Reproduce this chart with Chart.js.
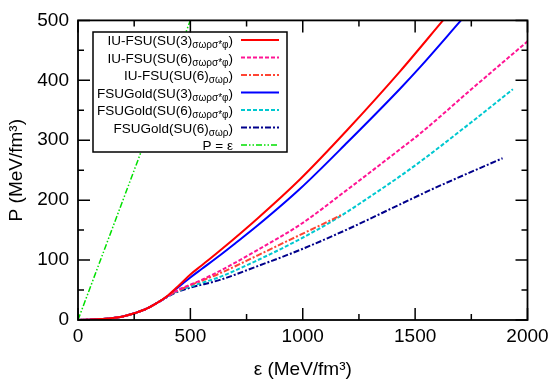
<!DOCTYPE html>
<html lang="en">
<head>
<meta charset="UTF-8">
<title>EOS: P vs energy density</title>
<script src="https://cdn.jsdelivr.net/npm/chart.js"></script>
<style>
  html, body { margin: 0; padding: 0; background: #fff; }
  #wrap { width: 555px; height: 383px; }
</style>
</head>
<body>
<div id="wrap"><canvas id="eos"></canvas></div>
<script>
// values, energy density and pressure in MeV/fm^3
const epsIuSu3 = [0, 100, 200, 300, 350, 400, 450, 500, 550, 632, 800, 988, 1200, 1433, 1624];
const pIuSu3   = [0, 1.5, 6, 18, 28, 41, 58, 76, 91, 116, 170, 235, 318, 415, 500];

const epsIuSu6 = [0, 100, 200, 300, 350, 400, 425, 450, 500, 550, 632, 800, 988, 1200, 1433, 1522, 1750, 2000];
const pIuSu6   = [0, 1.5, 6, 18, 28, 40, 46, 51, 59, 67, 82, 117, 159, 218, 285, 311, 385, 465];

const epsIuSu6r = [0, 100, 200, 300, 350, 400, 425, 450, 500, 632, 800, 988, 1100, 1175];
const pIuSu6r   = [0, 1.5, 6, 18, 28, 40, 45.5, 50, 58, 78, 108, 142, 162, 176];

const epsFsuSu3 = [0, 100, 200, 300, 350, 400, 450, 500, 550, 632, 700, 800, 988, 1200, 1433, 1522, 1704];
const pFsuSu3   = [0, 1.5, 6, 18, 28, 40, 56, 71, 85, 108, 128, 158, 219, 297, 386, 422, 500];

const epsFsuSu6 = [0, 100, 200, 300, 350, 400, 425, 450, 500, 632, 800, 988, 1166, 1300, 1433, 1522, 1750, 1935];
const pFsuSu6   = [0, 1.5, 6, 18, 28, 40, 45, 49, 56, 72, 100, 135, 173, 206, 240, 264, 330, 385];

const epsFsuSu6r = [0, 100, 200, 300, 350, 400, 425, 450, 500, 632, 800, 988, 1197, 1433, 1580, 1889];
const pFsuSu6r   = [0, 1.5, 6, 18, 28, 39, 44, 48, 54, 67, 90, 117, 151, 193, 219, 270];

const epsCausal = [0, 530];
const pCausal   = [0, 530];

const xTicks = [0, 500, 1000, 1500, 2000];
const yTicks = [0, 100, 200, 300, 400, 500];

function pts(xs, ys) {
    return xs.map((x, i) => ({ x: x, y: ys[i] }));
}

const FONT = '"Liberation Sans", Arial, sans-serif';

function line(parts, xs, ys, color, dash, width) {
    return {
        parts: parts,
        data: pts(xs, ys),
        borderColor: color,
        backgroundColor: color,
        borderWidth: width,
        borderDash: dash,
        pointRadius: 0,
        fill: false,
        cubicInterpolationMode: 'monotone',
        clip: 0
    };
}

const datasets = [
    line(['IU-FSU(SU(3)', 'σωρσ*φ', ')'], epsIuSu3, pIuSu3, '#ff0000', [], 2),
    line(['IU-FSU(SU(6)', 'σωρσ*φ', ')'], epsIuSu6, pIuSu6, '#ff1493', [4, 2], 2),
    line(['IU-FSU(SU(6)', 'σωρ', ')'], epsIuSu6r, pIuSu6r, '#ff4433', [6, 2, 2, 2], 2),
    line(['FSUGold(SU(3)', 'σωρσ*φ', ')'], epsFsuSu3, pFsuSu3, '#0000ff', [], 2),
    line(['FSUGold(SU(6)', 'σωρσ*φ', ')'], epsFsuSu6, pFsuSu6, '#00c8d0', [4, 2], 2),
    line(['FSUGold(SU(6)', 'σωρ', ')'], epsFsuSu6r, pFsuSu6r, '#00008b', [6, 2, 2, 2], 2),
    line(['P = ε', '', ''], epsCausal, pCausal, '#00e000', [6, 2, 1.5, 2, 1.5, 2], 1.5)
];

// legend box, inner ticks and frame
const decor = {
    id: 'decor',
    afterDatasetsDraw(chart) {
        const ctx = chart.ctx;
        ctx.save();
        ctx.fillStyle = '#fff';
        ctx.fillRect(93, 32, 194, 120);
        ctx.strokeStyle = '#000';
        ctx.lineWidth = 1.5;
        ctx.strokeRect(93, 32, 194, 120);
        ctx.textAlign = 'left';
        ctx.textBaseline = 'alphabetic';
        chart.data.datasets.forEach((ds, i) => {
            const yc = 40 + i * 17.5;
            const [main, sub, tail] = ds.parts;
            ctx.font = '10px ' + FONT;
            const wSub = sub ? ctx.measureText(sub).width : 0;
            ctx.font = '13.5px ' + FONT;
            const wMain = ctx.measureText(main).width;
            const wTail = ctx.measureText(tail).width;
            let x = 233 - wTail - wSub - wMain;
            ctx.fillStyle = '#000';
            ctx.fillText(main, x, yc + 5);
            x += wMain;
            if (sub) {
                ctx.font = '10px ' + FONT;
                ctx.fillText(sub, x, yc + 8);
                x += wSub;
                ctx.font = '13.5px ' + FONT;
            }
            ctx.fillText(tail, x, yc + 5);
            ctx.strokeStyle = ds.borderColor;
            ctx.lineWidth = ds.borderWidth;
            ctx.setLineDash(ds.borderDash);
            ctx.beginPath();
            ctx.moveTo(241, yc);
            ctx.lineTo(279, yc);
            ctx.stroke();
            ctx.setLineDash([]);
        });
        ctx.restore();
    },
    afterDraw(chart) {
        const ctx = chart.ctx;
        const a = chart.chartArea;
        const sx = chart.scales.x, sy = chart.scales.y;
        ctx.save();
        ctx.strokeStyle = '#000';
        ctx.lineWidth = 1.5;
        ctx.beginPath();
        for (let v = 0; v <= 2000; v += 250) {
            const px = sx.getPixelForValue(v);
            const len = v % 500 === 0 ? 12 : 6;
            ctx.moveTo(px, a.bottom); ctx.lineTo(px, a.bottom - len);
            ctx.moveTo(px, a.top); ctx.lineTo(px, a.top + len);
        }
        for (let v = 0; v <= 500; v += 50) {
            const py = sy.getPixelForValue(v);
            const len = v % 100 === 0 ? 12 : 6;
            ctx.moveTo(a.left, py); ctx.lineTo(a.left + len, py);
            ctx.moveTo(a.right, py); ctx.lineTo(a.right - len, py);
        }
        ctx.stroke();
        ctx.lineWidth = 1.8;
        ctx.strokeRect(a.left, a.top, a.right - a.left, a.bottom - a.top);
        ctx.restore();
    }
};

new Chart(document.getElementById('eos').getContext('2d'), {
    type: 'line',
    data: { datasets: datasets },
    options: {
        responsive: true,
        maintainAspectRatio: false,
        animation: false,
        layout: { padding: { top: 16, right: 27.5, left: 0, bottom: 0 } },
        plugins: { legend: { display: false }, tooltip: { enabled: false } },
        scales: {
            x: {
                type: 'linear', min: 0, max: 2000,
                afterFit: s => { s.height = 63; },
                afterBuildTicks: s => { s.ticks = xTicks.map(v => ({ value: v })); },
                grid: { display: false, drawTicks: false },
                border: { display: false },
                ticks: { color: '#000', font: { family: FONT, size: 19 }, padding: 5, maxRotation: 0,
                         callback: v => String(v) },
                title: { display: true, text: 'ε (MeV/fm³)', color: '#000',
                         font: { family: FONT, size: 19 }, padding: { top: 0, bottom: 2 } }
            },
            y: {
                type: 'linear', min: 0, max: 500,
                afterFit: s => { s.width = 78; },
                afterBuildTicks: s => { s.ticks = yTicks.map(v => ({ value: v })); },
                grid: { display: false, drawTicks: false },
                border: { display: false },
                ticks: { color: '#000', font: { family: FONT, size: 19 }, padding: 9,
                         callback: v => String(v) },
                title: { display: true, text: 'P (MeV/fm³)', color: '#000',
                         font: { family: FONT, size: 19 }, padding: { top: 5, bottom: 0 } }
            }
        }
    },
    plugins: [decor]
});
</script>
</body>
</html>
